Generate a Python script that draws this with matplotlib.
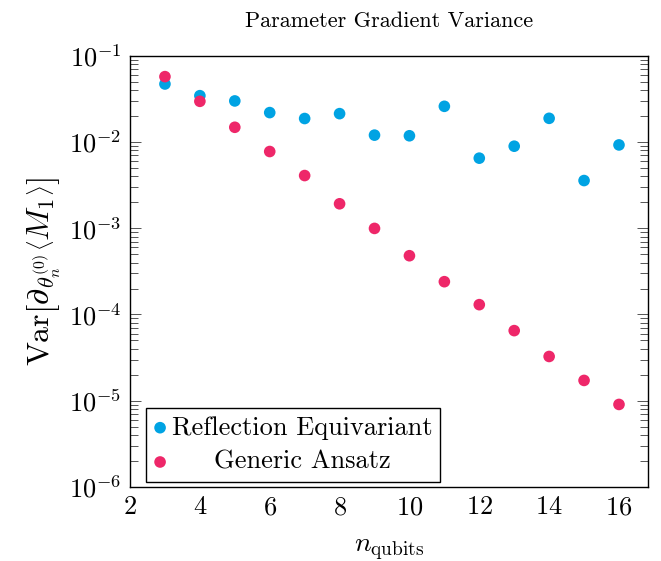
import matplotlib
matplotlib.use("Agg")
import matplotlib.pyplot as plt
from matplotlib.ticker import LogLocator, NullFormatter

plt.rcParams["font.family"] = ["cmr10"]
plt.rcParams["mathtext.fontset"] = "cm"
plt.rcParams["axes.formatter.use_mathtext"] = True

n_qubits = [3, 4, 5, 6, 7, 8, 9, 10, 11, 12, 13, 14, 15, 16]
var_equivariant = [0.047, 0.0344, 0.0299, 0.0219, 0.0187, 0.0213, 0.0120,
                   0.0118, 0.0259, 0.00649, 0.00893, 0.0188, 0.00357, 0.00924]
var_generic = [0.0572, 0.0296, 0.0148, 0.00775, 0.00408, 0.00192, 0.000995,
               0.00048, 0.00024, 0.00013, 6.5e-5, 3.26e-5, 1.72e-5, 9.06e-6]
labels = ["Reflection Equivariant", "Generic Ansatz"]

blue = "#00a3e3"
pink = "#ee2769"

fig = plt.figure(figsize=(6.61, 5.61), dpi=100)
ax = fig.add_axes([0.1967, 0.1319, 0.7836, 0.7688])

ax.scatter(n_qubits, var_equivariant, s=70, color=blue, edgecolors="none", label=labels[0], zorder=3)
ax.scatter(n_qubits, var_generic, s=70, color=pink, edgecolors="none", label=labels[1], zorder=3)

ax.set_yscale("log")
ax.set_xlim(2, 16.83)
ax.set_ylim(1e-6, 1e-1)
ax.set_xticks([2, 4, 6, 8, 10, 12, 14, 16])
ax.yaxis.set_major_locator(LogLocator(base=10, numticks=10))
ax.yaxis.set_minor_locator(LogLocator(base=10, subs=range(2, 10), numticks=20))
ax.yaxis.set_minor_formatter(NullFormatter())

ax.tick_params(axis="x", length=0, labelsize=19, pad=6)
ax.tick_params(axis="y", which="both", direction="in", left=True, right=True,
               labelsize=19, color="#555555", width=0.7, pad=6)
ax.tick_params(axis="y", which="major", length=8)
ax.tick_params(axis="y", which="minor", length=5.5)
for sp in ax.spines.values():
    sp.set_linewidth(1.0)

ax.set_title("Parameter Gradient Variance", fontsize=16, pad=21)
ax.set_xlabel(r"$n_{\mathrm{qubits}}$", fontsize=20, labelpad=12)
ax.set_ylabel(r"$\mathrm{Var}\left[\partial_{\theta_n^{(0)}}\left\langle M_1\right\rangle\right]$",
              fontsize=23, labelpad=4)

leg = ax.legend(loc="lower left", bbox_to_anchor=(0.03, 0.012), borderaxespad=0,
                fontsize=19, fancybox=False, framealpha=1, edgecolor="black",
                handlelength=0.5, handletextpad=0.2, borderpad=0.3, labelspacing=0.4,
                markerscale=1.0)
leg.get_frame().set_linewidth(1.0)

# center the shorter legend entry like pgfplots does
fig.canvas.draw()
r = fig.canvas.get_renderer()
texts = leg.get_texts()
w0 = texts[0].get_window_extent(r).width
w1 = texts[1].get_window_extent(r).width
texts[1].set_x((w0 - w1) / 2)

fig.savefig("out.png", dpi=100)
